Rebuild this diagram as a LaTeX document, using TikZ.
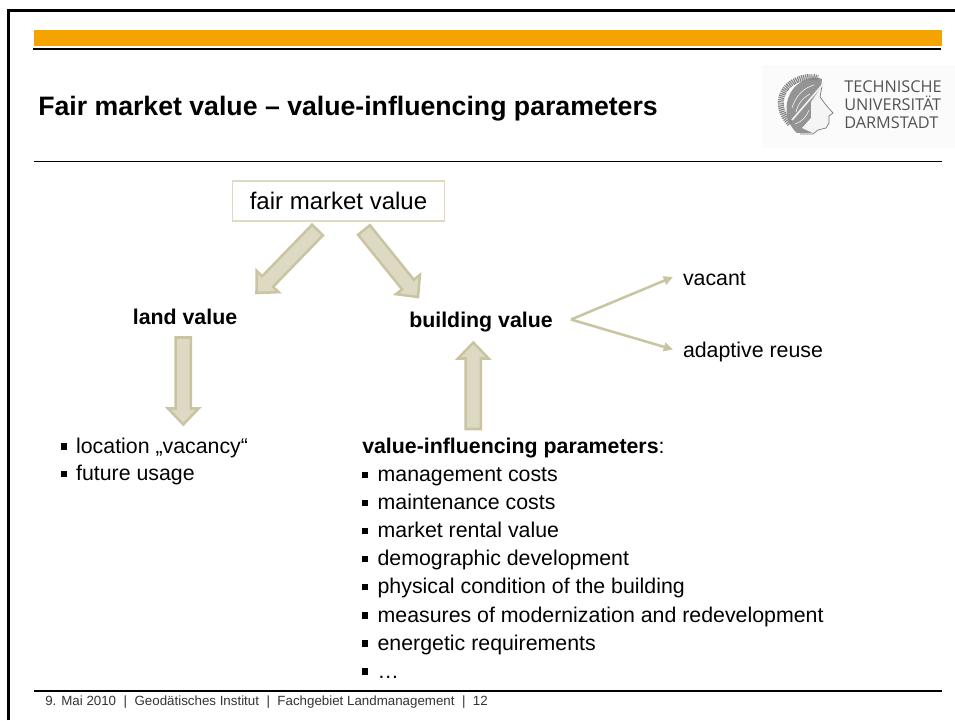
\documentclass[tikz,border=0pt]{standalone}
\usepackage{fontspec}
\setmainfont{Liberation Sans}
\newfontfamily\logofont{Open Sans}
\usetikzlibrary{arrows.meta,calc}
\definecolor{barorange}{HTML}{F5A300}
\definecolor{fatfill}{HTML}{DDD9C3}
\definecolor{fatline}{HTML}{C9C5A2}
\definecolor{footgray}{HTML}{333333}
\newcommand{\blt}{\rule[0.16em]{0.28em}{0.3em}\hspace{0.44em}}
\newcommand{\footsep}{\hspace{5.6pt}|\hspace{5.6pt}}
\begin{document}
\begin{tikzpicture}[x=0.75pt,y=-0.75pt,
		main node/.style = {inner sep = 0pt, text height=12pt, text depth=0pt, font=\fontsize{16}{20}\selectfont},
		key node/.style = {main node, font=\fontsize{16}{20}\selectfont\bfseries},
		list node/.style = {inner sep = 0pt, anchor=north west, align=left},
		logo node/.style = {anchor=base west, inner sep=0pt, font=\logofont\fontsize{12.2}{13}\selectfont, text=black!68},
		thin arrow/.style = {draw=fatline, line width=1.9pt, -{Triangle[length=7pt,width=6.5pt]}},
		fat arrow/.style = {draw=fatline, fill=fatfill, line width=1.9pt, line join=miter, to path={
			($(\tikztostart)!5.7pt!90:(\tikztotarget)$) --
			($(\tikztotarget)!12pt!(\tikztostart)!5.7pt!90:(\tikztotarget)$) --
			($(\tikztotarget)!12pt!(\tikztostart)!11.5pt!90:(\tikztotarget)$) --
			(\tikztotarget) --
			($(\tikztotarget)!12pt!(\tikztostart)!11.5pt!-90:(\tikztotarget)$) --
			($(\tikztotarget)!12pt!(\tikztostart)!5.7pt!-90:(\tikztotarget)$) --
			($(\tikztostart)!5.7pt!-90:(\tikztotarget)$) -- cycle}}]
		
		\useasboundingbox (0,0) rectangle (955,720);
		\fill[white] (0,0) rectangle (955,720);
		
		% frame and header
		\draw[line width=2.2pt] (8.8,720) -- (8.8,10.8) -- (955,10.8);
		\fill[barorange] (34,30) rectangle (942,46);
		\draw[line width=1.7pt] (33,49) -- (941,49);
		\draw[line width=0.8pt] (34,161.3) -- (942,161.3);
		\draw[line width=0.8pt] (34,691) -- (942,691);
		\node[anchor=base west,inner sep=0pt,font=\fontsize{20}{22}\selectfont\bfseries] (title) at (38,115.5) {Fair market value -- value-influencing parameters};
		\node[anchor=base west,inner sep=0pt,font=\fontsize{10}{11}\selectfont,text=footgray] (foot) at (45,705.5) {9. Mai 2010\footsep Geodätisches Institut\footsep Fachgebiet Landmanagement\footsep 12};
		
		% logo
		\fill[black!1.5] (762,65) rectangle (955,148);
		\fill[black!42] (797,133) .. controls (784,122) and (782,98) .. (797,85)
			.. controls (805,78) and (815,76) .. (822,79)
			-- (820,97) -- (817,120) -- (813,133) -- cycle;
		\draw[black!48,line width=4.5pt,dash pattern=on 0.9pt off 0.6pt] (790,124) .. controls (775,108) and (779,88) .. (797,80) .. controls (804,77) and (812,76) .. (818,78);
		\fill[black!4] (822,86) -- (820,97) -- (826,105) -- (833,113) -- (829,116) -- (829,123) -- (826,128) -- (818,130) -- (813,133) -- (802,128) -- (811,118) -- (811,102) -- cycle;
		\draw[black!55,line width=0.5pt] (822,86) -- (820,97) -- (826,105) -- (833,113) -- (829,116) -- (829,123) -- (826,128) -- (818,130) -- (813,134) -- (800,134);
		\draw[black!5,line width=1.2pt] (792,120) -- (824,83);
		\draw[black!8,line width=0.5pt] (792,108) .. controls (796,95) and (804,88) .. (814,85)
			(796,112) .. controls (798,103) and (804,97) .. (810,94)
			(795,124) .. controls (802,122) and (807,116) .. (809,110);
		\node[logo node] (tu1) at (844,93) {TECHNISCHE};
		\node[logo node] (tu2) at (844,111) {UNIVERSITÄT};
		\node[logo node] (tu3) at (844,129) {DARMSTADT};
		
		% diagram
		\node[draw=fatfill,line width=1.1pt,fill=white,minimum width=159pt,minimum height=30pt,inner sep=0pt,font=\fontsize{18}{20}\selectfont] (fmv) at (338.5,201) {fair market value};
		\node[key node] (land) at (185,316) {land value};
		\node[key node,inner xsep=13.5pt] (building) at (481,319.5) {building value};
		\node[main node,anchor=west,inner xsep=7.3pt] (vacant) at (673,277) {vacant};
		\node[main node,anchor=west,inner xsep=7.3pt] (reuse) at (673,349.5) {adaptive reuse};
		\node[list node,font=\fontsize{16}{20.6}\selectfont] (landlist) at (60.5,437.5) {\blt location „vacancy“\\\blt future usage};
		\node[list node,font=\fontsize{16}{21.1}\selectfont] (params) at (362,437.5) {\textbf{value-influencing parameters}:\\\blt management costs\\\blt maintenance costs\\\blt market rental value\\\blt demographic development\\\blt physical condition of the building\\\blt measures of modernization and redevelopment\\\blt energetic requirements\\\blt …};
		
		\coordinate (fmvleft) at (317.5,230);
		\coordinate (fmvright) at (364,230);
		\coordinate (landtop) at (256.5,293);
		\coordinate (buildingtop) at (418,297);
		\coordinate (landfoot) at (183.3,337.5);
		\coordinate (landtip) at (183.3,424.5);
		\coordinate (paramtop) at (473.3,429);
		\coordinate (buildingfoot) at (473.3,342.5);
		
		\path[fat arrow] (fmvleft) to (landtop);
		\path[fat arrow] (fmvright) to (buildingtop);
		\path[fat arrow] (landfoot) to (landtip);
		\path[fat arrow] (paramtop) to (buildingfoot);
		\draw[thin arrow] (building.east) -- (vacant.west);
		\draw[thin arrow] (building.east) -- (reuse.west);
\end{tikzpicture}
\end{document}
